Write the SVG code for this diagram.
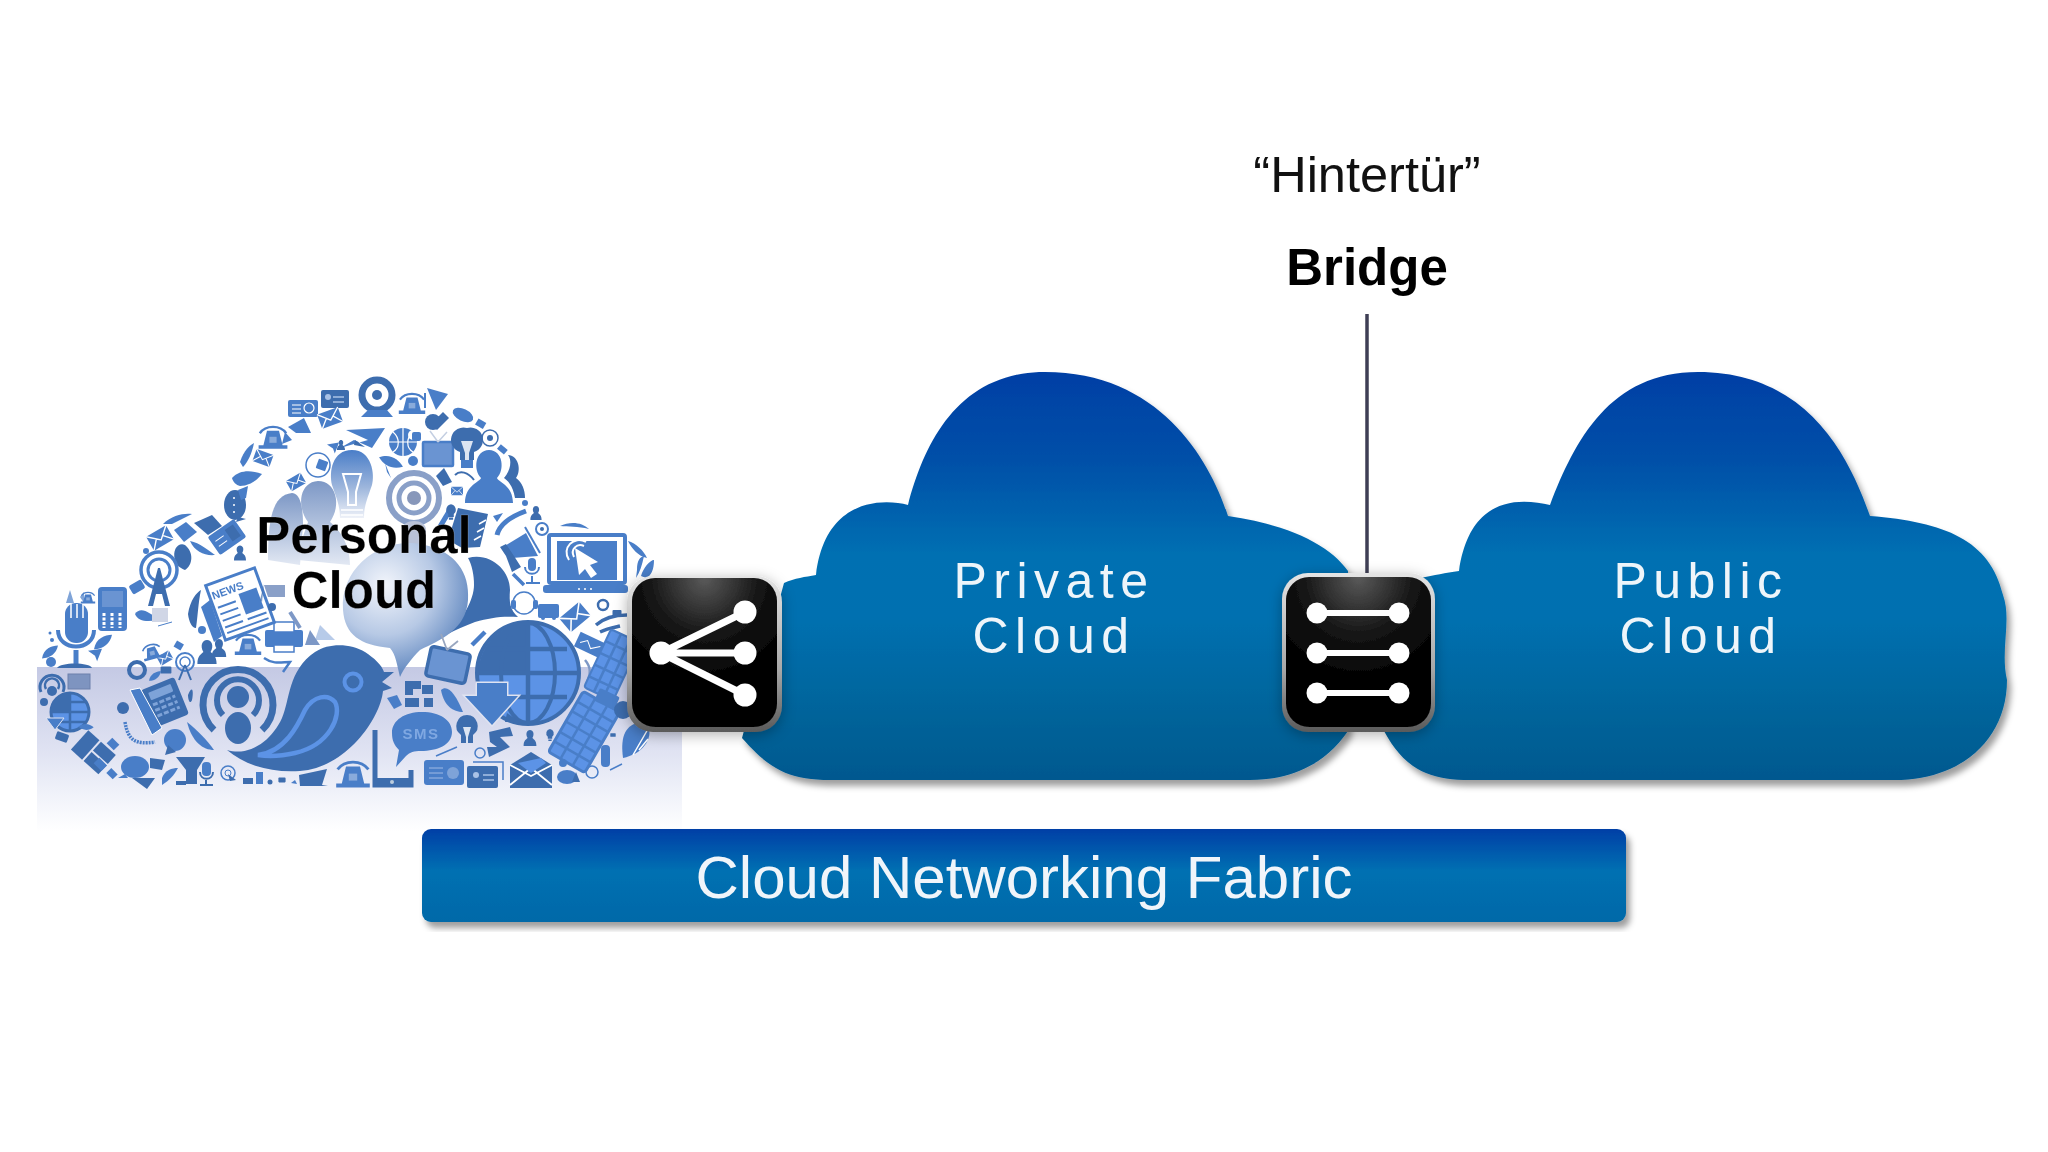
<svg xmlns="http://www.w3.org/2000/svg" width="2048" height="1152" viewBox="0 0 2048 1152">
<style>
text{font-family:"Liberation Sans",Arial,sans-serif}
.a{fill:#4a7ec8}.k{fill:#3e6dae}.h{fill:#5b93e6}.w{fill:#fff}
.sa{fill:none;stroke:#4a7ec8}.sk{fill:none;stroke:#3e6dae}
.ln{stroke:#fff;stroke-linecap:round;fill:none}
.cl{fill:url(#blue);filter:url(#sh)}
.wl{fill:#eef5fa;font-size:50px;letter-spacing:6.500px;text-anchor:middle}
.pc{font-size:51px;font-weight:700;fill:#000;text-anchor:middle;stroke:#fff;stroke-opacity:.3;stroke-width:.6}
</style>
<defs>
<linearGradient id="blue" gradientUnits="userSpaceOnUse" x1="0" y1="372" x2="0" y2="780"><stop offset="0" stop-color="#043fa5"/><stop offset=".22" stop-color="#0650a8"/><stop offset=".45" stop-color="#0570b2"/><stop offset=".6" stop-color="#0670b0"/><stop offset=".85" stop-color="#056399"/><stop offset="1" stop-color="#05588f"/></linearGradient>
<linearGradient id="bar" x1="0" y1="0" x2="0" y2="1"><stop offset="0" stop-color="#033fa6"/><stop offset=".45" stop-color="#0670b2"/><stop offset="1" stop-color="#0669a8"/></linearGradient>
<linearGradient id="band" x1="0" y1="0" x2="0" y2="1"><stop offset="0" stop-color="#c4c9e4"/><stop offset=".5" stop-color="#dfe2f2"/><stop offset=".75" stop-color="#eff1f9"/><stop offset="1" stop-color="#fff"/></linearGradient>
<linearGradient id="frame" x1="0" y1="0" x2="0" y2="1"><stop offset="0" stop-color="#e4e4e4"/><stop offset=".6" stop-color="#a8a8a8"/><stop offset="1" stop-color="#5a5a5a"/></linearGradient>
<radialGradient id="gloss" cx=".5" cy="0" r=".65"><stop offset="0" stop-color="#5a5a5a"/><stop offset=".6" stop-color="#141414"/><stop offset="1" stop-color="#050505"/></radialGradient>
<radialGradient id="bub" gradientUnits="userSpaceOnUse" cx="385" cy="585" r="100"><stop offset="0" stop-color="#f2f5fb"/><stop offset=".5" stop-color="#b7c9e5"/><stop offset="1" stop-color="#4f7ab8"/></radialGradient>
<linearGradient id="fade" x1="0" y1="0" x2="0" y2="1"><stop offset="0" stop-color="#4a7ec8"/><stop offset=".55" stop-color="#9db6dc"/><stop offset="1" stop-color="#eef1f8"/></linearGradient>
<linearGradient id="fade2" x1="0" y1="0" x2="0" y2="1"><stop offset="0" stop-color="#7d98c6"/><stop offset="1" stop-color="#e2e8f3"/></linearGradient>
<filter id="sh" x="-10%" y="-10%" width="120%" height="120%"><feDropShadow dx="4" dy="6" stdDeviation="3" flood-color="#000" flood-opacity=".38"/></filter>
<filter id="glow" x="-20%" y="-20%" width="140%" height="140%"><feDropShadow dx="0" dy="3" stdDeviation="7" flood-color="#000" flood-opacity=".3"/></filter>
<filter id="soft"><feGaussianBlur stdDeviation=".35"/></filter>
<g id="e"><rect x="-10" y="-7" width="20" height="14" rx="1" class="a"/><path d="M-10-7 0 2 10-7M-10 7-3-1M10 7 3-1" fill="none" stroke="#fff" stroke-width="1.200"/></g>
<path id="b" class="k" d="M-10-3a10 8 0 1 1 6 8l-6 5 1-7a8 8 0 0 1-1-6z"/>
<path id="l" class="a" d="M-10 8C-8-4 2-8 10-8 8 2 0 8-10 8z"/>
<path id="p" class="k" d="M-8 10C-8 3-5 2-3 0-6-5-4-10 0-10 4-10 6-5 3 0 5 2 8 3 8 10z"/>
<path id="d" class="k" d="M0-11A8 8 0 0 1 4 3V7H-4V3A8 8 0 0 1 0-11zM-3 8H3V11H-3z"/>
<g id="r"><circle r="9" class="sk" stroke-width="2"/><circle r="5" class="sk" stroke-width="2"/><circle r="2" class="k"/></g>
<rect id="s" x="-9" y="-6" width="18" height="12" rx="2" class="k"/>
<path id="t" class="a" d="M-10-6 10-9 3 9 0 1z"/>
<g id="bell"><path class="sa" stroke-width="2" d="M-11-4C-6-11 6-11 11-4"/><path class="a" d="M-5-6H5L8 6H12V9H-12V6H-8z"/><rect x="-3" y="-1" width="6" height="5" fill="#fff" opacity=".35"/></g>
</defs>
<rect width="2048" height="1152" fill="#fff"/>

<g id="personal-cloud">
<rect x="37" y="667" width="645" height="165" fill="url(#band)"/>
<g filter="url(#soft)">
<!-- faded people + bulb -->
<path d="M268 560C268 520 272 495 292 493 300 494 303 505 303 525L300 565z" fill="url(#fade2)"/>
<path d="M298 560C300 540 306 530 308 522 296 505 300 482 318 481 336 481 342 505 330 522 340 530 350 545 350 565z" fill="url(#fade2)"/>
<path fill="url(#fade)" d="M352 450C372 450 375 475 372 485 368 497 364 505 364 518H340C340 505 336 497 332 485 329 472 332 450 352 450z"/>
<path d="M343 474 361 474 356 492V505H348V492z" fill="none" stroke="#fff" stroke-width="2"/><path d="M341 510H363M341 515H363M343 520H361" stroke="#fff" stroke-width="1.500"/>
<circle cx="414" cy="498" r="25" fill="none" stroke="#8aa0c8" stroke-width="6"/><circle cx="414" cy="498" r="15" fill="none" stroke="#8aa0c8" stroke-width="5"/><circle cx="414" cy="498" r="7" fill="#8797ba"/>
<path d="M402 530C402 518 426 518 426 530V555H402z" fill="#b9c2d8"/>
<!-- big speech bubble -->
<path class="k" d="M468 558C490 552 510 570 510 590 509 602 510 610 518 617 500 616 490 618 475 622 465 626 455 630 448 634 462 620 474 600 474 585 474 575 472 565 468 558z"/>
<path fill="url(#bub)" d="M343 610C340 565 385 535 425 545 455 552 470 572 468 600 466 630 440 640 420 650 412 658 404 668 400 677 397 665 396 655 390 648 360 645 345 635 343 610z"/>
<!-- top outer band -->
<rect x="288" y="400" width="30" height="17" rx="2" class="a"/><circle cx="309" cy="408" r="5" fill="none" stroke="#fff" stroke-width="1.200"/><path d="M292 405H301M292 409H301M292 413H301" stroke="#fff"/>
<rect x="321" y="390" width="28" height="18" rx="2" class="k"/><circle cx="328" cy="397" r="3" fill="#a9c2e6"/><path d="M333 397H344M333 402H344" stroke="#a9c2e6" stroke-width="1.500"/>
<use href="#e" transform="translate(330 418) rotate(-20) scale(1.100)"/>
<use href="#bell" transform="translate(273 438) scale(1.200)"/>
<path class="a" d="M288 427 304 418 311 433 296 433z"/><path class="a" d="M285 432 292 440 282 444z"/>
<path class="a" d="M240 462C244 450 250 445 254 443 252 453 248 462 243 467z"/>
<use href="#e" transform="translate(263 458) rotate(20) scale(.9)"/>
<path class="a" d="M232 478C240 470 250 470 262 474 255 483 246 486 240 486 236 485 233 482 232 478z"/>
<ellipse cx="235" cy="505" rx="11" ry="15" class="k"/><path d="M238 517 246 519 236 522z" class="k"/><circle cx="234" cy="498" r="1" fill="#fff"/><circle cx="234" cy="505" r="1" fill="#fff"/><circle cx="234" cy="512" r="1" fill="#fff"/>
<path class="a" d="M238 490 248 486 246 498 241 500z"/>
<path class="a" d="M163 524C172 515 184 513 192 514L172 524z"/>
<path class="a" d="M174 530 186 522 197 532 184 542z"/><path class="k" d="M194 523 212 515 222 526 208 535z"/>
<use href="#e" transform="translate(160 538) rotate(-30) scale(1.150)"/>
<g transform="translate(227 537) rotate(-35)"><rect x="-16" y="-11" width="32" height="22" rx="2" class="a"/><rect x="2" y="-7" width="10" height="14" class="k"/><path d="M-12-3H-2M-12 3H-2" stroke="#fff"/></g>
<path class="k" d="M175 560C172 550 178 542 185 545 194 552 193 565 185 570 180 568 176 565 175 560z"/>
<path class="a" d="M190 541C200 543 208 550 215 555 205 556 195 552 190 541z"/>
<use href="#p" transform="translate(240 553) scale(.75)"/><circle cx="146" cy="551" r="3" class="a"/>
<circle cx="159" cy="570" r="18" class="sa" stroke-width="3.500"/><circle cx="159" cy="570" r="11" class="sa" stroke-width="3"/><path class="k" d="M158 568H160L170 606H165L162 594H156L153 606H148z"/>
<rect x="130" y="582" width="14" height="10" rx="2" transform="rotate(-30 137 587)" class="a"/>
<!-- inner arc top -->
<path class="a" d="M340 448 368 440 346 430 385 428 372 448 354 440z"/><path class="k" d="M355 440 365 447 354 445z"/>
<circle cx="403" cy="442" r="14" class="a"/><path d="M389 442H417M403 428V456M393 432C400 438 400 448 393 452M413 432C406 438 406 448 413 452" stroke="#fff" stroke-width="1.200" fill="none"/>
<circle cx="413" cy="435" r="5" fill="#fff"/><rect x="412" y="432" width="9" height="9" rx="2" class="a"/>
<rect x="317" y="460" width="10" height="10" rx="1" class="a" transform="rotate(20 322 465)"/><circle cx="318" cy="465" r="12" class="sa" stroke-width="1.500"/><use href="#t" transform="translate(333 448) scale(.6)"/><use href="#e" transform="translate(296 482) rotate(-30) scale(.85)"/><use href="#p" transform="translate(341 445) scale(.5)"/>
<use href="#l" transform="translate(391 462) rotate(60)"/><path class="a" d="M385 463 391 478 387 472z"/><circle cx="413" cy="461" r="5" class="a"/>
<!-- webcam etc -->
<circle cx="377" cy="395" r="15" fill="none" stroke="#3e6dae" stroke-width="7"/><circle cx="377" cy="395" r="5" class="k"/><path class="a" d="M361 417 368 410H387L393 417z"/>
<use href="#bell" transform="translate(412 404) scale(1.100)"/>
<path class="a" d="M427 388 448 394 436 410z"/><path class="a" d="M425 393V408" stroke="#4a7ec8" stroke-width="2"/>
<path class="k" d="M443 412 449 418 437 430 431 424z"/>
<ellipse cx="463" cy="415" rx="11" ry="6" transform="rotate(25 463 415)" class="a"/><circle cx="433" cy="422" r="8" class="k"/><rect x="476" y="420" width="9" height="7" class="a" transform="rotate(30 480 424)"/>
<rect x="423" y="442" width="30" height="24" rx="1" fill="#6b94d2" stroke="#4a7ec8" stroke-width="2.500"/><path d="M438 442 430 431M438 442 447 432" stroke="#c4cfe2" stroke-width="1.500"/>
<path class="k" d="M467 428A12 12 0 0 1 474 452V460H460V452A12 12 0 0 1 467 428z"/><path d="M461 441H473L469 453V460H465V453z" fill="#dbe4f2"/><rect x="461" y="460" width="12" height="8" class="a"/>
<circle cx="490" cy="438" r="8" class="sk" stroke-width="1.500"/><circle cx="490" cy="438" r="3" class="k"/><rect x="498" y="446" width="9" height="6" transform="rotate(40 502 449)" class="a"/>
<path class="a" d="M465 503C465 485 480 482 481 478 473 470 475 450 489 450 503 450 505 470 497 478 498 482 513 485 513 503z"/>
<path class="k" d="M508 455C518 455 522 470 516 478 522 482 525 490 525 498H515C513 485 507 480 504 478 511 470 512 460 508 455z"/>
<path class="k" d="M444 462 452 476 443 480 436 470z" transform="translate(0 6)"/><path d="M455 475C460 470 468 472 474 480" stroke="#3e6dae" stroke-width="2" fill="none"/>
<use href="#e" transform="translate(457 491) scale(.6)"/>
<!-- notebook -->
<path class="k" d="M458 508 488 514 480 547 462 548 448 540z"/><path d="M486 520 479 524M484 528 477 532M481 536 474 540" stroke="#fff" stroke-width="1.500"/>
<path class="a" d="M450 510 438 530 444 530 450 520z" transform="translate(0 -5)"/>
<use href="#d" transform="translate(451 512) scale(.7)"/>
<path class="a" d="M493 516 503 513 497 522z"/>
<path d="M497 535C500 522 515 515 526 511" class="sa" stroke-width="5"/><circle cx="525" cy="503" r="3" class="a"/><use href="#p" transform="translate(536 513) scale(.7)"/>
<circle cx="542" cy="529" r="6" class="sa" stroke-width="2"/><circle cx="542" cy="529" r="2" class="k"/>
<!-- laptop -->
<path class="a" d="M560 526C570 521 582 522 589 529 578 526 568 527 560 526z"/>
<rect x="549" y="535" width="76" height="48" rx="2" class="w" stroke="#4a7ec8" stroke-width="4"/><rect x="557" y="541" width="60" height="39" fill="#4a7ec8"/>
<rect x="543" y="585" width="85" height="8" rx="3" class="a"/><circle cx="579" cy="589" r="1" fill="#fff"/><circle cx="585" cy="589" r="1" fill="#fff"/><circle cx="591" cy="589" r="1" fill="#fff"/>
<path d="M569 560C561 548 574 535 586 542M574 557C570 549 577 543 584 546" fill="none" stroke="#fff" stroke-width="2"/>
<path class="w" d="M575 548 598 562 590 565 597 574 591 578 585 569 579 575z"/>
<path class="a" d="M628 541C636 543 644 551 647 558 638 556 632 549 628 541zM637 570C637 560 640 557 644 556 642 565 640 572 636 578zM641 576C643 568 650 560 654 560 654 570 651 576 646 578z"/>
<!-- megaphone + mic -->
<path class="a" d="M503 547 526 533 538 556 512 558z"/><path class="k" d="M500 547 506 556 512 572 521 567 514 556 506 544z"/>
<path d="M525 527 540 553" stroke="#4a7ec8" stroke-width="2"/>
<rect x="528" y="558" width="8" height="13" rx="4" class="a"/><path d="M525 567C525 576 539 576 539 567M532 576V582M526 583H540" class="sa" stroke-width="2"/>
<path d="M513 574 524 585" stroke="#4a7ec8" stroke-width="3.500"/>
<circle cx="524" cy="603" r="11" class="sa" stroke-width="1.500"/><rect x="511" y="600" width="5" height="9" rx="2" class="a"/><rect x="533" y="600" width="5" height="9" rx="2" class="a"/>
<!-- right of bubble -->
<rect x="538" y="604" width="21" height="14" rx="2" class="a"/><circle cx="543" cy="618" r="2" class="a"/><circle cx="554" cy="618" r="2" class="a"/>
<use href="#e" transform="translate(575 617) rotate(-40) scale(1.300)"/>
<circle cx="603" cy="605" r="5" class="sk" stroke-width="2.500"/><use href="#s" transform="translate(617 613) scale(.5)"/>
<path d="M596 625C605 617 618 615 627 615M600 632C608 628 616 627 620 626" stroke="#3e6dae" stroke-width="3.500" fill="none"/>
<g transform="translate(590 645) rotate(25)"><rect x="-14" y="-8" width="28" height="16" class="a"/><path d="M-10 2-4-3 2 3 10-3" stroke="#fff" fill="none"/></g>
<path d="M585 660C592 668 590 675 587 682" fill="none" stroke="#7d98c6" stroke-width="2.500"/>
<!-- keypads -->
<g transform="translate(612 665) rotate(25)"><rect x="-16" y="-32" width="32" height="64" rx="3" class="h" stroke="#4a7ec8" stroke-width="2"/><path d="M-16-19H16M-16-6H16M-16 7H16M-16 20H16M-5-32V32M6-32V32" stroke="#4a7ec8" stroke-width="2.500"/></g>
<g transform="translate(584 732) rotate(30)"><rect x="-21" y="-35" width="42" height="70" rx="3" class="h" stroke="#4a7ec8" stroke-width="3"/><path d="M-21-23H21M-21-12H21M-21 0H21M-21 12H21M-21 23H21M-7-35V35M7-35V35" stroke="#4a7ec8" stroke-width="2.500"/></g>
<rect x="596" y="692" width="22" height="14" rx="2" transform="rotate(25 607 699)" class="a"/>
<circle cx="623" cy="710" r="9" class="k"/>
<!-- feathers right bottom -->
<path class="a" d="M623 758C620 735 626 725 640 722 651 725 652 735 645 745 640 752 632 756 623 758z"/><path d="M633 755 648 729M639 750 648 739" stroke="#fff" stroke-width="1.500"/>
<rect x="601" y="745" width="9" height="22" rx="4" class="a"/><path d="M610 770 622 764" stroke="#4a7ec8" stroke-width="1.500"/><use href="#s" transform="translate(613 735) scale(.3)"/>
<circle cx="592" cy="772" r="6" class="sa" stroke-width="1.500"/>
<ellipse cx="567" cy="777" rx="10" ry="7" class="a"/><path class="k" d="M576 772 580 782 572 782z"/><circle cx="563" cy="763" r="4" class="a"/>
<!-- globe big -->
<g id="globe"><circle cx="528" cy="673" r="51" class="h" stroke="#3e6dae" stroke-width="4"/><path d="M478 673H528V622C505 624 480 640 478 673z" class="k"/><path d="M478 673H579M528 623V724M490 649H567M490 697H567" stroke="#3e6dae" stroke-width="4.500" fill="none"/><ellipse cx="528" cy="673" rx="27" ry="50" fill="none" stroke="#3e6dae" stroke-width="4"/></g>
<path d="M477 683H507V696H518L492 725 465 696H477z" class="a" stroke="#dfe3f1" stroke-width="3" paint-order="stroke"/>
<path class="k" d="M507 713 520 722H505z"/>
<!-- tv -->
<g transform="translate(448 665) rotate(12)"><rect x="-20" y="-15" width="40" height="30" rx="3" fill="#6b94d2" stroke="#3e6dae" stroke-width="3.500"/></g><path d="M447 650 441 634M447 650 458 641" stroke="#98a6bf" stroke-width="1.800"/>
<path d="M472 645 485 632" stroke="#4a7ec8" stroke-width="4.500"/>
<!-- blocks + tiny -->
<path class="k" d="M405 681H421V689H413V695H405zM405 698H419V707H405zM422 685H433V694H422zM424 698H433V707H424z"/>
<path class="a" d="M387 698 397 695 402 705 394 709z"/>
<path class="a" d="M441 690C448 684 456 695 463 712 453 712 444 706 441 690z"/>
<!-- radar large -->
<path d="M214 730A35 35 0 1 1 262 730" class="sk" stroke-width="7"/><path d="M223 715A21 21 0 1 1 253 715" class="sk" stroke-width="6"/>
<circle cx="238" cy="697" r="11" class="k"/><ellipse cx="238" cy="728" rx="13" ry="16" class="k"/>
<!-- bird -->
<path class="k" d="M227 750C250 757 272 740 282 718 290 700 288 670 315 652 330 642 352 644 365 652 374 658 382 665 384 672L394 672 382 682 392 688 383 691C380 720 345 768 300 771 270 773 245 765 227 750z"/>
<path d="M258 755C285 752 298 725 305 710 314 695 328 694 335 702 342 715 330 745 295 753 282 756 270 757 258 755z" fill="#3e6dae" stroke="#5b93e6" stroke-width="4.500"/>
<circle cx="353" cy="682" r="8.500" class="k" stroke="#5b93e6" stroke-width="4"/>
<!-- desk phone -->
<g transform="translate(163 703) rotate(-22)"><rect x="-16" y="-20" width="36" height="40" rx="3" class="k"/><rect x="-10" y="-15" width="24" height="8" rx="1" fill="#7ea3d8"/><path d="M-10-2H14M-10 4H14M-10 10H14" stroke="#7ea3d8" stroke-width="3" stroke-dasharray="5 2"/></g>
<path class="a" d="M130 690 140 688 162 728 152 735z" stroke="#fff" stroke-width="1"/>
<path d="M125 722C128 740 135 745 155 742" class="sa" stroke-width="3.500" stroke-dasharray="2 1"/>
<ellipse cx="123" cy="708" rx="6" ry="6" class="k"/>
<circle cx="175" cy="740" r="11" class="a"/><path class="k" d="M168 745 176 752 165 755z"/>
<path class="a" d="M187 722C197 730 207 740 214 750 203 750 192 742 187 722z"/>
<path class="k" d="M188 695C192 685 194 690 192 700 190 705 188 700 188 695z"/>
<!-- gear/tower cluster -->
<circle cx="137" cy="670" r="8" class="sk" stroke-width="4"/><circle cx="185" cy="662" r="9" class="sa" stroke-width="2"/><circle cx="185" cy="662" r="5" class="sa" stroke-width="1.500"/><path d="M185 665 179 680M185 665 191 680" stroke="#3e6dae" stroke-width="2"/>
<use href="#e" transform="translate(165 658) rotate(-30) scale(.7)"/><use href="#bell" transform="translate(152 652) rotate(-15) scale(.8)"/><use href="#s" transform="translate(166 670) scale(.6)"/><use href="#l" transform="translate(155 676) scale(.6)"/>
<use href="#p" transform="translate(207 652) scale(1.200)"/><use href="#p" transform="translate(219 648) scale(.9)"/>
<rect x="175" y="642" width="8" height="7" class="a" transform="rotate(30 179 645)"/><circle cx="202" cy="630" r="4" class="a"/>
<!-- printer etc -->
<rect x="265" y="630" width="38" height="17" rx="2" class="a"/><rect x="274" y="622" width="20" height="10" class="w" stroke="#4a7ec8" stroke-width="1.500"/><rect x="274" y="645" width="20" height="7" class="w" stroke="#4a7ec8" stroke-width="1.500"/>
<use href="#bell" transform="translate(248 645) scale(1.100)"/>
<path d="M264 658C274 665 282 662 290 662L283 672" class="sa" stroke-width="2.500"/>
<path class="a" opacity=".8" d="M315 640 320 625 335 640z" fill-opacity=".5"/>
<path d="M290 612 300 628" stroke="#7d98c6" stroke-width="4"/><path d="M310 630 320 645 305 645z" fill="#7d98c6"/>
<!-- newspaper -->
<path class="a" d="M201 607 210 600 222 636 214 642z"/><path class="k" d="M188 614C190 600 197 592 201 590 198 604 198 615 196 628 192 628 189 622 188 614z"/>
<g transform="translate(240 604) rotate(-20)"><rect x="-26" y="-29" width="52" height="58" fill="#fff" stroke="#4a7ec8" stroke-width="3"/><text x="-7" y="-13" text-anchor="middle" font-size="11" font-weight="700" fill="#4a7ec8">NEWS</text><path d="M-22-4H-3M-22 3H-3M-22 10H-3M-22 17H-3M2 17H22M-22 23H22" stroke="#4a7ec8" stroke-width="2"/><rect x="2" y="-10" width="19" height="22" class="a"/></g>
<path fill="#8aa0c8" d="M264 585H285V597H268z"/><path class="k" opacity=".7" d="M260 600 264 584 262 602z"/><circle cx="272" cy="607" r="4" class="k"/>
<!-- mic + handset left -->
<rect x="65" y="603" width="23" height="40" rx="11" class="a"/><path d="M71 604V618M77 604V618M83 604V618" stroke="#fff" stroke-width="1.500"/><path d="M58 630C58 652 94 652 94 630" class="sa" stroke-width="4"/><path d="M76 650V664" stroke="#4a7ec8" stroke-width="5"/><path class="k" d="M57 668C60 662 90 662 92 668z"/>
<rect x="98" y="587" width="29" height="44" rx="4" class="a"/><rect x="102" y="591" width="21" height="16" fill="#6b94d2"/><path d="M104 613V628M112 613V628M120 613V628" stroke="#fff" stroke-width="3" stroke-dasharray="3 1.500"/>
<use href="#bell" transform="translate(88 598) scale(.6)"/><path class="a" d="M66 603 70 590 74 603zM80 597 84 592 84 603z" opacity=".7"/>
<path class="a" d="M135 614C140 606 150 612 158 620 148 622 138 622 135 614z"/>
<rect x="152" y="608" width="16" height="14" fill="#d0d6e6"/><path d="M158 626 172 622" stroke="#4a7ec8"/>
<use href="#l" transform="translate(50 652) scale(.8)"/><use href="#l" transform="translate(103 642) scale(.9)"/><use href="#t" transform="translate(95 655) scale(.7)"/><circle cx="51" cy="662" r="5" class="a"/><circle cx="52" cy="640" r="2" class="a"/><circle cx="50" cy="633" r="1.500" class="a"/>
<path d="M41 692A12 12 0 1 1 63 692" class="sk" stroke-width="3"/><path d="M46 689A7 7 0 1 1 58 689" class="sk" stroke-width="2.500"/><circle cx="52" cy="691" r="5" class="k"/>
<rect x="68" y="674" width="22" height="15" fill="#7e94c0" stroke="#6d80ac"/>
<circle cx="44" cy="702" r="4" class="k"/>
<!-- small globe left -->
<circle cx="70" cy="712" r="19" class="h" stroke="#3e6dae" stroke-width="3"/><path d="M51 712H89M70 693V731M55 702H85M55 722H85" stroke="#3e6dae" stroke-width="2.500"/><path class="k" d="M50 712H70V693C58 695 50 702 50 712z"/>
<path class="a" d="M46 718H64L55 730z" stroke="#dfe3f1"/>
<!-- dark squares -->
<g transform="translate(93 752) rotate(42)"><rect x="-18" y="-13" width="15" height="26" class="k"/><rect x="-1" y="-13" width="20" height="12" class="k"/><rect x="-1" y="1" width="20" height="12" class="k"/></g>
<use href="#s" transform="translate(62 737) rotate(20) scale(.7)"/><use href="#l" transform="translate(86 727) rotate(40) scale(.6)"/><rect x="95" y="760" width="11" height="8" transform="rotate(45 100 764)" class="a"/><rect x="108" y="740" width="10" height="8" transform="rotate(45 113 744)" class="a"/><rect x="108" y="770" width="9" height="7" transform="rotate(45 112 773)" class="a"/>
<!-- bottom row -->
<ellipse cx="135" cy="767" rx="14" ry="11" class="a"/><path class="a" d="M125 774 118 778 128 778z"/><path class="k" d="M132 778H155L147 789z"/>
<path class="a" d="M162 778C165 770 172 768 178 768 174 775 170 780 162 785z"/><path class="k" d="M150 758 165 760 162 770 150 768z"/>
<path class="k" d="M176 757H205L197 770V784H186V770zM176 781H186V785H176z"/>
<rect x="202" y="762" width="9" height="14" rx="4" class="a"/><path d="M200 772C200 781 213 781 213 772M206 780V784M200 785H213" class="sk" stroke-width="2"/>
<circle cx="228" cy="773" r="7" class="sa" stroke-width="1.500"/><circle cx="228" cy="773" r="3" class="sa"/><path class="k" d="M228 774 236 780 230 781z"/>
<rect x="256" y="772" width="7" height="12" class="a"/><rect x="243" y="778" width="10" height="6" class="k"/><circle cx="270" cy="782" r="2.500" class="k"/><use href="#s" transform="translate(282 780) scale(.4)"/><path class="a" d="M291 783 295 780 297 784z"/>
<path class="k" d="M299 775 327 769 322 785 328 786H300z"/>
<use href="#bell" transform="translate(353 775) scale(1.400)"/>
<!-- SMS -->
<path d="M375 730V785H411V770" class="sk" stroke-width="5"/><rect x="375" y="778" width="37" height="9" rx="2" class="k"/><circle cx="392" cy="782" r="2" fill="#bcd"/>
<path class="a" d="M392 733C392 720 405 712 422 712 440 712 452 720 452 732 452 745 437 751 421 751 414 751 410 752 406 756L396 767 399 750C394 745 392 740 392 733z"/>
<text x="421" y="739" text-anchor="middle" font-size="15" font-weight="700" letter-spacing="1.500" fill="#7fa8e2">SMS</text>
<path d="M436 756 457 747" stroke="#4a7ec8" stroke-width="1.500"/>
<rect x="424" y="760" width="40" height="25" rx="3" class="a"/><circle cx="453" cy="773" r="6" fill="#7ea3d8"/><path d="M429 768H443M429 773H443M429 778H443" stroke="#9db9e4"/>
<rect x="467" y="766" width="31" height="22" rx="2" class="k"/><path d="M473 762H503V780" class="sa" stroke-width="1.500"/><circle cx="476" cy="775" r="3" fill="#a9c2e6"/><path d="M483 775H494M483 780H494" stroke="#a9c2e6" stroke-width="1.500"/>
<path class="k" d="M467 715A11 11 0 0 1 473 735V743H461V735A11 11 0 0 1 467 715z"/><path d="M463 727H471L468 737V743H466V737z" fill="#dbe4f2"/>
<circle cx="480" cy="753" r="5" class="sa" stroke-width="1.500"/>
<path class="k" d="M489 732 510 727 513 736 500 737 510 747 489 757 487 747 497 747 490 742z"/>
<use href="#p" transform="translate(530 738) scale(.8)"/><use href="#d" transform="translate(550 735) scale(.55)"/>
<!-- envelope big -->
<path class="k" d="M510 765 531 752 552 765V788H510z"/><path d="M510 785 531 768 552 785M510 765 531 776 552 765" fill="none" stroke="#fff" stroke-width="1.800"/><path class="h" d="M518 763 541 758 546 763 531 773z"/>
<text class="pc" x="364" y="553">Personal</text>
<text class="pc" x="364" y="608">Cloud</text>
</g>
</g>

<g id="connectors"><path d="M1367 314V576" stroke="#3f3f55" stroke-width="3.500" fill="none"/></g>

<g id="private-cloud">
<path class="cl" d="M742 738C770 770 790 780 830 780L1250 780C1290 780 1325 765 1348 731L1348 571C1330 545 1290 525 1228 516 1210 460 1160 372 1045 372 960 372 925 440 908 505 880 498 825 500 816 575 805 577 795 578 784 583Z"/>
<text class="wl" x="1054" y="598">Private</text><text class="wl" x="1054" y="653">Cloud</text>
</g>
<g id="public-cloud">
<path class="cl" d="M1384 731C1405 770 1430 780 1470 780L1890 780C1960 782 2007 740 2007 680 2000 650 2012 620 2003 595 1990 540 1945 522 1870 516 1850 460 1810 372 1698 372 1610 372 1575 440 1550 505 1520 498 1470 495 1459 571 1445 573 1435 575 1420 578Z"/>
<text class="wl" x="1701" y="598">Public</text><text class="wl" x="1701" y="653">Cloud</text>
</g>

<g id="router" filter="url(#glow)">
<rect x="627" y="576" width="155" height="156" rx="26" fill="url(#frame)"/><rect x="632" y="578" width="145" height="149" rx="23" fill="url(#gloss)"/>
<path class="ln" stroke-width="7" d="M661 653 745 612M661 653H745M661 653 745 695"/>
<g fill="#fff"><circle cx="661" cy="653" r="11.500"/><circle cx="745" cy="612" r="11.500"/><circle cx="745" cy="653" r="11.500"/><circle cx="745" cy="695" r="11.500"/></g>
</g>
<g id="bridge" filter="url(#glow)">
<rect x="1282" y="573" width="153" height="159" rx="26" fill="url(#frame)"/><rect x="1286" y="577" width="145" height="150" rx="23" fill="url(#gloss)"/>
<path class="ln" stroke-width="6" d="M1317 613H1399M1317 653H1399M1317 693H1399"/>
<g fill="#fff"><circle cx="1317" cy="613" r="10.500"/><circle cx="1399" cy="613" r="10.500"/><circle cx="1317" cy="653" r="10.500"/><circle cx="1399" cy="653" r="10.500"/><circle cx="1317" cy="693" r="10.500"/><circle cx="1399" cy="693" r="10.500"/></g>
</g>

<g id="fabric">
<rect x="422" y="829" width="1204" height="93" rx="9" fill="url(#bar)" filter="url(#sh)"/>
<text x="1024" y="898" text-anchor="middle" font-size="60" fill="#f0f5fa">Cloud Networking Fabric</text>
</g>
<g id="labels">
<text x="1367" y="192" text-anchor="middle" font-size="50.500" fill="#111">“Hintertür”</text>
<text x="1367" y="285" text-anchor="middle" font-size="51" font-weight="700" fill="#000">Bridge</text>
</g>
</svg>
